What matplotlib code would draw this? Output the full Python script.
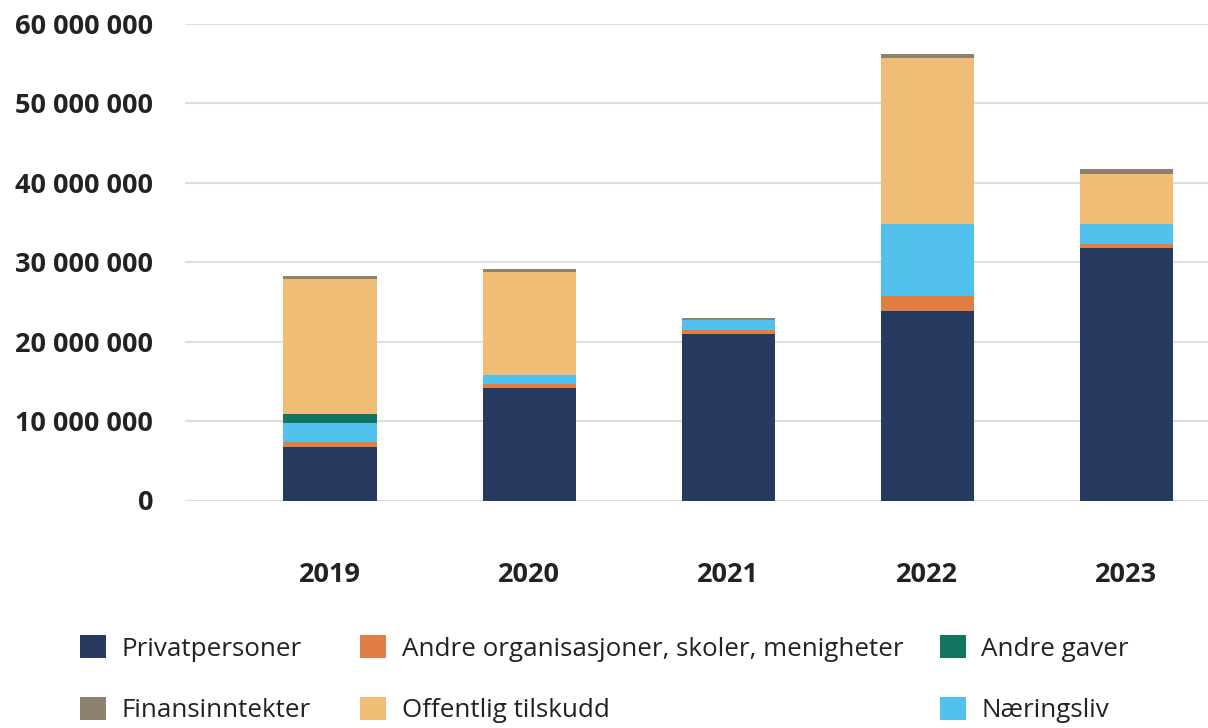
import matplotlib.pyplot as plt
import numpy as np
from matplotlib.ticker import FuncFormatter

plt.rcParams["font.family"] = ["Open Sans", "DejaVu Sans"]

YEARS = ["2019", "2020", "2021", "2022", "2023"]

# values in NOK (stacked bottom to top)
PRIVAT = [6_730_000, 14_150_000, 20_940_000, 23_870_000, 31_800_000]
ANDRE_ORG = [630_000, 510_000, 510_000, 1_890_000, 500_000]
NARINGSLIV = [2_390_000, 1_130_000, 1_260_000, 9_060_000, 2_520_000]
ANDRE_GAVER = [1_130_000, 0, 0, 0, 0]
OFFENTLIG = [16_980_000, 12_950_000, 0, 20_900_000, 6_280_000]
FINANS = [380_000, 380_000, 250_000, 460_000, 590_000]

SERIES = [
    ("Privatpersoner", PRIVAT, "#273a60"),
    ("Andre organisasjoner, skoler, menigheter", ANDRE_ORG, "#e07e45"),
    ("Næringsliv", NARINGSLIV, "#52c1ed"),
    ("Andre gaver", ANDRE_GAVER, "#127561"),
    ("Offentlig tilskudd", OFFENTLIG, "#efbd76"),
    ("Finansinntekter", FINANS, "#8d8170"),
]

# legend layout: three columns, two rows each
LEGEND_COLUMNS = [
    ["Privatpersoner", "Finansinntekter"],
    ["Andre organisasjoner, skoler, menigheter", "Offentlig tilskudd"],
    ["Andre gaver", "Næringsliv"],
]
LEGEND_X = [0.0662, 0.298, 0.778]


def fmt(value, _pos):
    return f"{int(value):,}".replace(",", " ")


fig = plt.figure(figsize=(12.08, 7.28), dpi=100)
ax = fig.add_axes([0.1531, 0.3125, 0.8469, 0.6552])

x = np.arange(len(YEARS))
bottom = np.zeros(len(YEARS))
handles = {}
for label, values, color in SERIES:
    vals = np.array(values, dtype=float)
    bars = ax.bar(x, vals, width=0.47, bottom=bottom, color=color, label=label, zorder=3)
    handles[label] = bars
    bottom += vals

ax.set_ylim(0, 60_000_000)
ax.set_xlim(-0.73, 4.41)
ax.set_yticks(np.arange(0, 60_000_001, 10_000_000))
ax.yaxis.set_major_formatter(FuncFormatter(fmt))
ax.set_xticks(x)
ax.set_xticklabels(YEARS)

ax.grid(axis="y", color="#dddddd", linewidth=1.5, zorder=0)
for spine in ax.spines.values():
    spine.set_visible(False)
ax.tick_params(axis="both", length=0, labelsize=19.5, colors="#222222")
ax.tick_params(axis="y", pad=23)
ax.tick_params(axis="x", pad=44)
for lbl in ax.get_xticklabels() + ax.get_yticklabels():
    lbl.set_fontweight("bold")

for names, lx in zip(LEGEND_COLUMNS, LEGEND_X):
    fig.legend(
        [handles[name] for name in names],
        names,
        loc="center left",
        bbox_to_anchor=(lx, 0.067),
        frameon=False,
        fontsize=18.7,
        handlelength=1.0,
        handleheight=1.0,
        handletextpad=0.6,
        labelspacing=1.35,
        borderpad=0,
        borderaxespad=0,
        labelcolor="#222222",
    )

fig.savefig("out.png", dpi=100)
